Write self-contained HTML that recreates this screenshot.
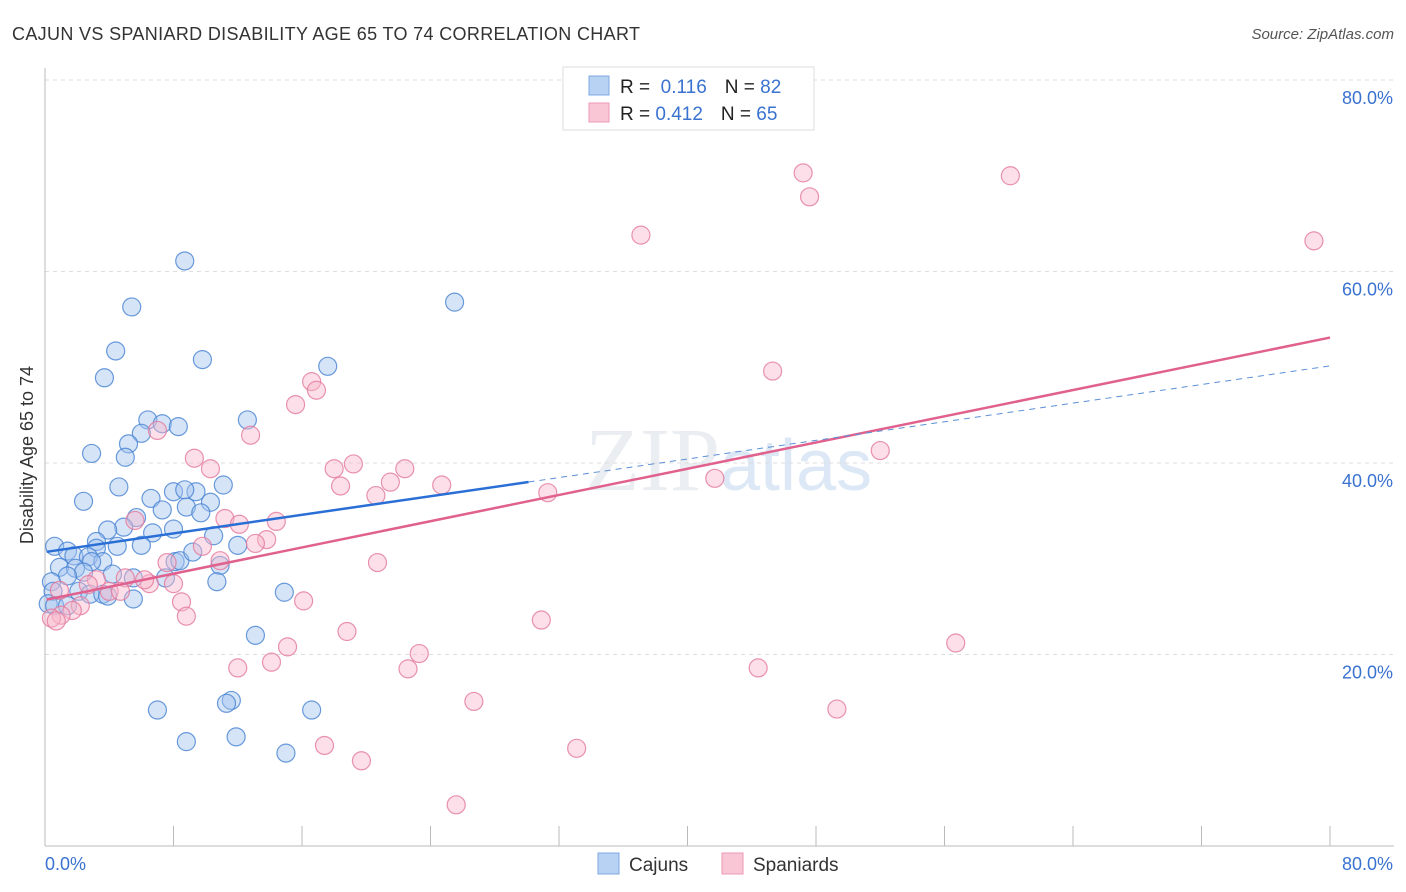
<!DOCTYPE html>
<html><head><meta charset="utf-8"><style>
body{margin:0;background:#fff;font-family:"Liberation Sans",sans-serif;}
svg{display:block}
</style></head><body>
<svg id="chart" width="1406" height="892">
<text x="12" y="40" font-size="18" fill="#333" textLength="628">CAJUN VS SPANIARD DISABILITY AGE 65 TO 74 CORRELATION CHART</text>
<text x="1394" y="39" font-size="15" fill="#555" text-anchor="end" font-style="italic">Source: ZipAtlas.com</text>
<text x="720" y="490" font-size="90" fill="#eaedf1" text-anchor="end" font-family="Liberation Serif">ZIP</text>
<text x="720" y="490" font-size="72" fill="#dde8f6">atlas</text>
<g id="grid"></g><g id="axes"></g><g id="marks"></g>
<text transform="translate(33,455) rotate(-90)" font-size="18" fill="#333" text-anchor="middle">Disability Age 65 to 74</text>
<text x="45" y="870" font-size="18" fill="#3a72d0">0.0%</text>
<text x="1393" y="870" font-size="18" fill="#3a72d0" text-anchor="end">80.0%</text>
<g>
<rect x="563" y="67" width="251" height="63" fill="#fff" stroke="#ddd"/>
<rect x="589" y="76" width="20" height="19" fill="#b8d2f4" stroke="#7fa8e0"/>
<rect x="589" y="103" width="20" height="19" fill="#f9c6d6" stroke="#ec9ab5"/>
<text x="620" y="93" font-size="19" fill="#222">R = <tspan fill="#3a72d0">&#160;0.116</tspan><tspan dx="18">N = </tspan><tspan fill="#3a72d0">82</tspan></text>
<text x="620" y="120" font-size="19" fill="#222">R = <tspan fill="#3a72d0">0.412</tspan><tspan dx="18">N = </tspan><tspan fill="#3a72d0">65</tspan></text>
</g>
<rect x="598" y="853" width="21" height="21" fill="#b8d2f4" stroke="#7fa8e0"/>
<text x="629" y="871" font-size="19" fill="#333">Cajuns</text>
<rect x="722" y="853" width="21" height="21" fill="#f9c6d6" stroke="#ec9ab5"/>
<text x="753" y="871" font-size="19" fill="#333">Spaniards</text>
</svg>
<script>
const yTicks=[20,40,60,80];
const yTickLabels=["20.0%","40.0%","60.0%","80.0%"];
const xTicks=[0,8,16,24,32,40,48,56,64,72,80];
const cajunX=[8.7,5.4,25.5,4.4,9.8,3.7,17.6,6.4,7.3,8.3,12.6,6.0,5.2,5.0,2.9,4.6,2.4,6.6,8.0,9.4,11.1,8.7,10.3,7.3,8.8,9.7,5.7,4.9,3.9,8.0,6.7,3.2,4.5,6.0,10.5,12.0,0.6,1.4,3.2,1.8,2.7,3.6,2.9,8.1,8.4,9.2,10.9,0.9,1.9,2.4,1.4,4.2,5.5,7.5,10.7,0.4,0.5,2.1,2.8,3.6,3.9,5.5,14.9,0.2,0.6,1.4,13.1,7.0,11.6,11.3,16.6,8.8,11.9,15.0];
const cajunY=[61.1,56.3,56.8,51.7,50.8,48.9,50.1,44.5,44.1,43.8,44.5,43.1,42.0,40.6,41.0,37.5,36.0,36.3,37.0,37.0,37.7,37.2,35.9,35.1,35.4,34.8,34.3,33.3,33.0,33.1,32.7,31.8,31.3,31.4,32.4,31.4,31.3,30.8,31.1,30.3,30.2,29.7,29.7,29.7,29.8,30.7,29.3,29.1,29.0,28.6,28.2,28.4,28.0,28.0,27.6,27.6,26.6,26.6,26.3,26.3,26.1,25.8,26.5,25.3,25.1,25.1,22.0,14.2,15.2,14.9,14.2,10.9,11.4,9.7];
const spanX=[47.2,47.6,60.1,37.1,79.0,45.3,16.6,16.9,15.6,7.0,12.8,52.0,9.3,19.2,10.3,18.0,22.4,21.5,24.7,18.4,41.7,31.3,20.6,5.6,11.2,12.1,14.4,13.8,13.1,9.8,10.9,7.6,20.7,3.2,5.0,6.5,6.2,8.0,2.7,0.9,4.0,4.7,8.5,16.1,2.2,1.7,8.8,1.0,0.4,0.7,30.9,18.8,15.1,56.7,23.3,12.0,14.1,22.6,44.4,26.7,49.3,17.4,33.1,19.7,25.6];
const spanY=[70.3,67.8,70.0,63.8,63.2,49.6,48.5,47.6,46.1,43.4,42.9,41.3,40.5,39.9,39.4,39.4,39.4,38.0,37.7,37.6,38.4,36.9,36.6,34.0,34.2,33.6,33.9,32.0,31.6,31.3,29.8,29.6,29.6,27.8,28.0,27.4,27.8,27.4,27.3,26.7,26.6,26.6,25.5,25.6,25.1,24.6,24.0,24.1,23.8,23.5,23.6,22.4,20.8,21.2,20.1,18.6,19.2,18.5,18.6,15.1,14.3,10.5,10.2,8.9,4.3];
const cajunTrend=[30.7,0.243,30.1];
const spanTrend=[25.7,0.3425];
const NS="http://www.w3.org/2000/svg";
const X=v=>45+v*(1285/80);
const Y=v=>846-v*(191.5/20);
function mk(t,a,p){const e=document.createElementNS(NS,t);for(const k in a)e.setAttribute(k,a[k]);document.getElementById(p).appendChild(e);return e;}
yTicks.forEach((t,i)=>{
 const l=mk('line',{x1:45,x2:1394,y1:Y(t),y2:Y(t),stroke:'#ddd','stroke-dasharray':'4,4'},'grid');
 
 
 const tx=mk('text',{x:1393,y:Y(t)+24,'font-size':18,fill:'#3a72d0','text-anchor':'end'},'grid');
 tx.textContent=yTickLabels[i];
 
 
});
const ax=mk('line',{x1:45,x2:45,y1:68,y2:846,stroke:'#bbb'},'axes');


const bx=mk('line',{x1:45,x2:1394,y1:846,y2:846,stroke:'#bbb'},'axes');


xTicks.forEach(t=>{
 const l=mk('line',{x1:X(t),x2:X(t),y1:826,y2:846,stroke:'#bbb'},'axes');
 
 
});
cajunX.forEach((v,i)=>{
 const c=mk('circle',{cx:X(v),cy:Y(cajunY[i]),r:9,fill:'rgba(164,196,240,0.45)',stroke:'rgba(70,130,210,0.8)','stroke-width':1.2},'marks');
 
 
});
spanX.forEach((v,i)=>{
 const c=mk('circle',{cx:X(v),cy:Y(spanY[i]),r:9,fill:'rgba(248,184,204,0.45)',stroke:'rgba(226,120,155,0.8)','stroke-width':1.2},'marks');
 
 
});
const f=(tr,x)=>tr[0]+tr[1]*x;
const s=mk('line',{x1:X(0.1),y1:Y(f(spanTrend,0.1)),x2:X(80),y2:Y(f(spanTrend,80)),stroke:'#e0608e','stroke-width':2.5},'marks');


const cd=mk('line',{x1:X(cajunTrend[2]),y1:Y(f(cajunTrend,cajunTrend[2])),x2:X(80),y2:Y(f(cajunTrend,80)),stroke:'#5b8fd6','stroke-width':1,'stroke-dasharray':'6,5'},'marks');


const cs=mk('line',{x1:X(0.1),y1:Y(f(cajunTrend,0.1)),x2:X(cajunTrend[2]),y2:Y(f(cajunTrend,cajunTrend[2])),stroke:'#2a6fd6','stroke-width':2.5},'marks');


</script>
</body></html>
